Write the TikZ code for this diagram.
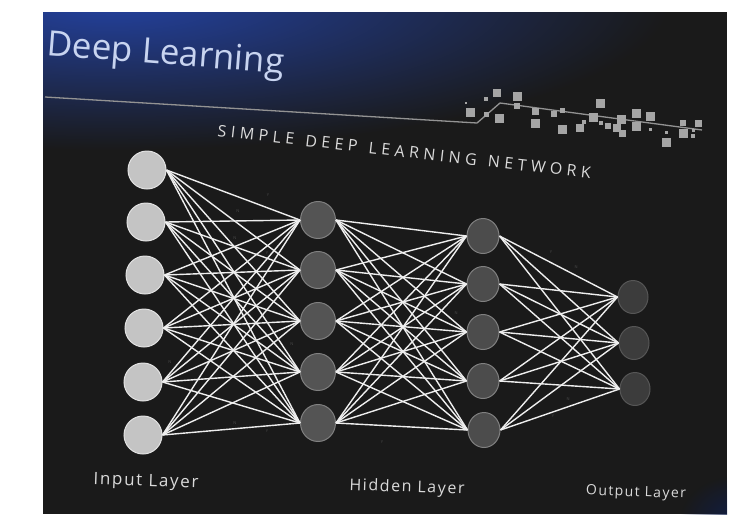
\documentclass[tikz,border=0pt]{standalone}
\usepackage{fontspec}
\setmainfont{Open Sans}
\newfontfamily\spacedfont[LetterSpace=28,WordSpace=1.3]{Open Sans}
\newfontfamily\labelfont[LetterSpace=10]{Open Sans}
\usetikzlibrary{shapes.geometric,fadings}

\definecolor{slidebg}{RGB}{26,26,26}
\definecolor{slideblue}{RGB}{36,66,160}
\definecolor{titleblue}{RGB}{200,212,240}
\definecolor{inputfill}{RGB}{196,196,196}
\definecolor{inputedge}{RGB}{226,226,226}
\definecolor{hidfill}{RGB}{84,84,84}
\definecolor{hidedge}{RGB}{128,128,128}
\definecolor{outfill}{RGB}{60,60,60}
\definecolor{outedge}{RGB}{86,86,86}
\definecolor{linkwhite}{RGB}{238,238,238}
\definecolor{squaregrey}{RGB}{165,165,165}
\definecolor{labelgrey}{RGB}{218,218,218}

\tikzfading[name=glowfade, inner color=transparent!0, outer color=transparent!100]

\begin{document}
\begin{tikzpicture}[x=1pt, y=-1pt,
    inputnode/.style={ellipse, draw=inputedge, fill=inputfill, line width=1pt, minimum width=38pt, minimum height=38pt, inner sep=0pt},
    hidnode/.style={ellipse, draw=hidedge, fill=hidfill, line width=1pt, minimum width=35pt, minimum height=37pt, inner sep=0pt},
    hidbnode/.style={hidnode, fill=hidfill!90!black, minimum width=32pt, minimum height=35pt},
    outnode/.style={ellipse, draw=outedge, fill=outfill, line width=1pt, minimum width=30pt, minimum height=33pt, inner sep=0pt},
    link/.style={draw=linkwhite, line width=1.4pt},
    weight/.style={font=\fontsize{4}{4}\selectfont, text=gray!60!black, inner sep=0pt},
    layerlabel/.style={font=\labelfont\fontsize{17}{20}\selectfont, text=labelgrey, rotate=-2}]
  \useasboundingbox (0,0) rectangle (743,514);

  % Slide
  \fill[slidebg] (43,12) rectangle (727,514);
  \begin{scope}
    \clip (43,12) rectangle (727,514);
    \fill[slideblue, path fading=glowfade] (110,0) ellipse [x radius=560, y radius=150];
    \fill[slideblue!45!black, path fading=glowfade] (740,520) ellipse [x radius=60, y radius=45];
  \end{scope}

  % Title
  \node[anchor=base west, rotate=-4.5, inner sep=0pt, text=titleblue, font=\fontsize{35}{40}\selectfont] (title) at (46,55) {Deep Learning};
  \draw[gray!85, line width=1.3pt] (45,97) -- (477,123) -- (500,103) -- (702,130);
  \foreach \x/\y/\s in {470/112/9, 466/103/2, 486/99/4, 497/93/8, 517/96/9, 486/114/5, 499/118/9, 517/106/6,
      535/111/7, 535/123/9, 554/114/6, 562/110/5, 562/129/9, 580/128/8, 584/122/4, 593/117/9, 600/103/9,
      601/123/4, 608/126/6, 617/128/8, 621/119/9, 622/133/7, 636/113/9, 636/126/9, 650/116/9, 650/129/3,
      666/132/3, 666/142/9, 683/123/6, 683/133/9, 693/136/4, 698/123/7, 693/130/3}
    \fill[squaregrey] ({\x-\s/2},{\y-\s/2}) rectangle ++(\s,\s);
  \node[anchor=base west, rotate=-6.5, inner sep=0pt, text=labelgrey, font=\spacedfont\fontsize{16}{19}\selectfont] (subtitle) at (217,136) {SIMPLE DEEP LEARNING NETWORK};

  % Nodes
  \node[inputnode] (in1) at (147,170) {};
  \node[inputnode] (in2) at (146,222) {};
  \node[inputnode] (in3) at (145,275) {};
  \node[inputnode] (in4) at (144,328) {};
  \node[inputnode] (in5) at (143,382) {};
  \node[inputnode] (in6) at (143,435) {};

  \node[hidnode] (hid1) at (318,220) {};
  \node[hidnode] (hid2) at (318,270) {};
  \node[hidnode] (hid3) at (318,321) {};
  \node[hidnode] (hid4) at (318,372) {};
  \node[hidnode] (hid5) at (318,423) {};

  \node[hidbnode] (hidb1) at (483,236) {};
  \node[hidbnode] (hidb2) at (483,284) {};
  \node[hidbnode] (hidb3) at (483,332) {};
  \node[hidbnode] (hidb4) at (483,381) {};
  \node[hidbnode] (hidb5) at (484,430) {};

  \node[outnode] (out1) at (633,297) {};
  \node[outnode] (out2) at (634,343) {};
  \node[outnode] (out3) at (635,389) {};

  % Edges
  \foreach \a in {1,...,6}
    \foreach \b in {1,...,5}
      \draw[link] (in\a.east) -- (hid\b.west);
  \foreach \a in {1,...,5}
    \foreach \b in {1,...,5}
      \draw[link] (hid\a.east) -- (hidb\b.west);
  \foreach \a in {1,...,5}
    \foreach \b in {1,...,3}
      \draw[link] (hidb\a.east) -- (out\b.west);

  % Weights
  \node[weight] (w1) at (268,195) {Y};
  \node[weight] (w2) at (238,211) {N};
  \node[weight] (w3) at (235,238) {N};
  \node[weight] (w4) at (267,253) {Y};
  \node[weight] (w5) at (292,344) {N};
  \node[weight] (w6) at (170,362) {N};
  \node[weight] (w7) at (235,423) {N};
  \node[weight] (w8) at (267,431) {Y};
  \node[weight] (w9) at (551,252) {Y};
  \node[weight] (w10) at (576,267) {N};
  \node[weight] (w11) at (456,313) {N};
  \node[weight] (w12) at (568,399) {N};
  \node[weight] (w13) at (553,416) {Y};
  \node[weight] (w14) at (382,442) {Y};

  % Labels
  \node[layerlabel] (inlabel) at (146,482) {Input Layer};
  \node[layerlabel, font=\labelfont\fontsize{16}{19}\selectfont] (hidlabel) at (407,488) {Hidden Layer};
  \node[layerlabel, font=\labelfont\fontsize{14}{17}\selectfont] (outlabel) at (636,493) {Output Layer};
\end{tikzpicture}
\end{document}
